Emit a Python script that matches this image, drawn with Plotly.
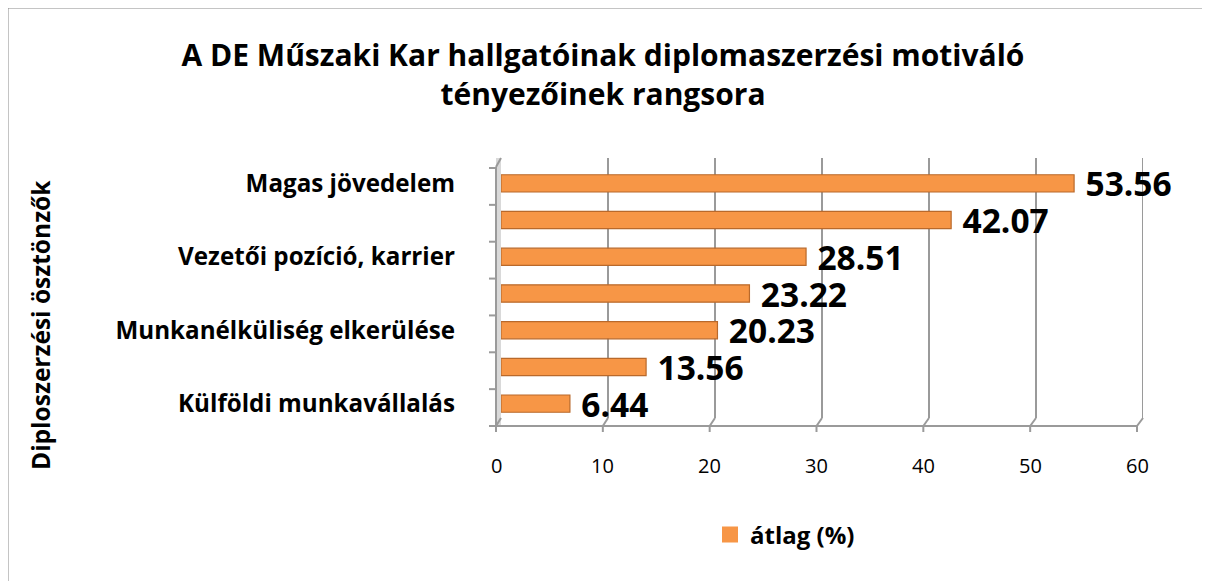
import plotly.graph_objects as go

# ---- data ----
categories = [
    "Magas jövedelem",
    "",
    "Vezetői pozíció, karrier",
    "",
    "Munkanélküliség elkerülése",
    "",
    "Külföldi munkavállalás",
]
values = [53.56, 42.07, 28.51, 23.22, 20.23, 13.56, 6.44]
x_ticks = [0, 10, 20, 30, 40, 50, 60]
series_name = "átlag (%)"
title_text = "A DE Műszaki Kar hallgatóinak diplomaszerzési motiváló<br>tényezőinek rangsora"
y_title = "Diploszerzési ösztönzők"

# ---- layout geometry (screen pixels; page body adds an 8px offset) ----
W, H = 1210, 581
OFF = 8
L, R, T, B = 501, 1143, 165, 422   # plot area (bar band), screen coords
WALL_TOP, WALL_BOT = 158, 418      # back wall extent


def px(x):
    return (x - L) / (R - L)


def py(y):
    return (B - y) / (B - T)


FONT = "'Open Sans', Lato, sans-serif"
ORANGE = "#F79646"
EDGE = "#B9692B"
GRID = "#9a9a9a"

fig = go.Figure()
fig.add_trace(go.Bar(
    x=values,
    y=list(range(len(values))),
    orientation="h",
    name=series_name,
    showlegend=False,
    marker=dict(color=ORANGE, line=dict(color=EDGE, width=1.2)),
    width=0.47,
    text=[f"{v:.2f}" for v in values],
    texttemplate="\u2005%{text}",
    textposition="outside",
    textfont=dict(family=FONT, size=33.5, color="#000000", weight="bold"),
    cliponaxis=False,
    constraintext="none",
))
# legend entry (square swatch) for the series
fig.add_trace(go.Scatter(
    x=[None], y=[None], mode="markers", name=series_name,
    marker=dict(symbol="square", size=16, color=ORANGE),
    showlegend=True, hoverinfo="skip",
))

shapes = []
# back-wall gridlines
for t in x_ticks[1:]:
    shapes.append(dict(type="line", xref="x", yref="paper",
                       x0=t, x1=t, y0=py(WALL_BOT), y1=py(WALL_TOP),
                       line=dict(color=GRID, width=2), layer="below"))
# left wall strip
shapes.append(dict(type="rect", xref="paper", yref="paper",
                   x0=px(496), x1=px(501), y0=py(426), y1=py(WALL_TOP),
                   fillcolor="#d9d9d9", line=dict(width=0), layer="below"))
shapes.append(dict(type="line", xref="paper", yref="paper",
                   x0=px(496), x1=px(496), y0=py(426), y1=py(167),
                   line=dict(color=GRID, width=2)))
# front floor axis line
shapes.append(dict(type="line", xref="paper", yref="paper",
                   x0=px(496), x1=px(1137), y0=py(426), y1=py(426),
                   line=dict(color=GRID, width=2)))
# floor diagonals from front ticks to back gridlines
for t in x_ticks:
    fx = 496 + (1137 - 496) * t / 60
    bx = L + (R - L) * t / 60
    shapes.append(dict(type="line", xref="paper", yref="paper",
                       x0=px(fx), x1=px(bx), y0=py(426), y1=py(WALL_BOT),
                       line=dict(color=GRID, width=2)))
    shapes.append(dict(type="line", xref="paper", yref="paper",
                       x0=px(fx), x1=px(fx), y0=py(426), y1=py(432),
                       line=dict(color=GRID, width=2)))
# top-left wall diagonal
shapes.append(dict(type="line", xref="paper", yref="paper",
                   x0=px(496), x1=px(501), y0=py(167), y1=py(WALL_TOP),
                   line=dict(color=GRID, width=2)))
# front y-axis ticks
n = len(values)
for i in range(n + 1):
    yy = 168 + (426 - 168) * i / n
    shapes.append(dict(type="line", xref="paper", yref="paper",
                       x0=px(489), x1=px(496), y0=py(yy), y1=py(yy),
                       line=dict(color=GRID, width=2)))
# chart frame (top and left edges visible)
shapes.append(dict(type="line", xref="paper", yref="paper",
                   x0=px(7), x1=px(1400), y0=py(7), y1=py(7),
                   line=dict(color="#8a8a8a", width=3)))
shapes.append(dict(type="line", xref="paper", yref="paper",
                   x0=px(7), x1=px(7), y0=py(7), y1=py(800),
                   line=dict(color="#8a8a8a", width=3)))

annotations = [
    dict(text=y_title, xref="paper", yref="paper", x=px(40), y=py(325),
         textangle=-90, showarrow=False, xanchor="center", yanchor="middle",
         font=dict(family=FONT, size=24.5, color="#000000", weight="bold")),
]
# front axis tick labels
for t in x_ticks:
    fx = 496 + (1137 - 496) * t / 60
    annotations.append(dict(text=str(t), xref="paper", yref="paper",
                            x=px(fx), y=py(465), showarrow=False,
                            xanchor="center", yanchor="middle",
                            font=dict(family=FONT, size=20, color="#000000")))

fig.update_layout(
    width=W, height=H,
    margin=dict(l=L - OFF, r=W - (R - OFF), t=T - OFF, b=H - (B - OFF)),
    paper_bgcolor="white", plot_bgcolor="white",
    title=dict(text=title_text, x=(603 - OFF) / W, xref="container", xanchor="center",
               y=1 - (66 - OFF) / H, yref="container", yanchor="middle",
               font=dict(family=FONT, size=30, color="#000000", weight="bold")),
    xaxis=dict(range=[0, 60], tickvals=x_ticks, showticklabels=False,
               showgrid=False, zeroline=False, showline=False, ticks=""),
    yaxis=dict(range=[n - 0.5, -0.5], tickvals=list(range(n)),
               ticktext=categories, showgrid=False, zeroline=False,
               showline=False, ticks="", ticklabelstandoff=45,
               tickfont=dict(family=FONT, size=24.2, color="#000000", weight="bold")),
    showlegend=True,
    legend=dict(orientation="h", x=px(710), y=py(535), xanchor="left",
                yanchor="middle", font=dict(family=FONT, size=24, color="#000000", weight="bold"),
                itemwidth=30, bgcolor="rgba(0,0,0,0)"),
    shapes=shapes,
    annotations=annotations,
    bargap=0.5,
)

fig.write_html("out.html",
               post_script="document.documentElement.style.overflow='hidden';"
                           "document.body.style.overflow='hidden';")
